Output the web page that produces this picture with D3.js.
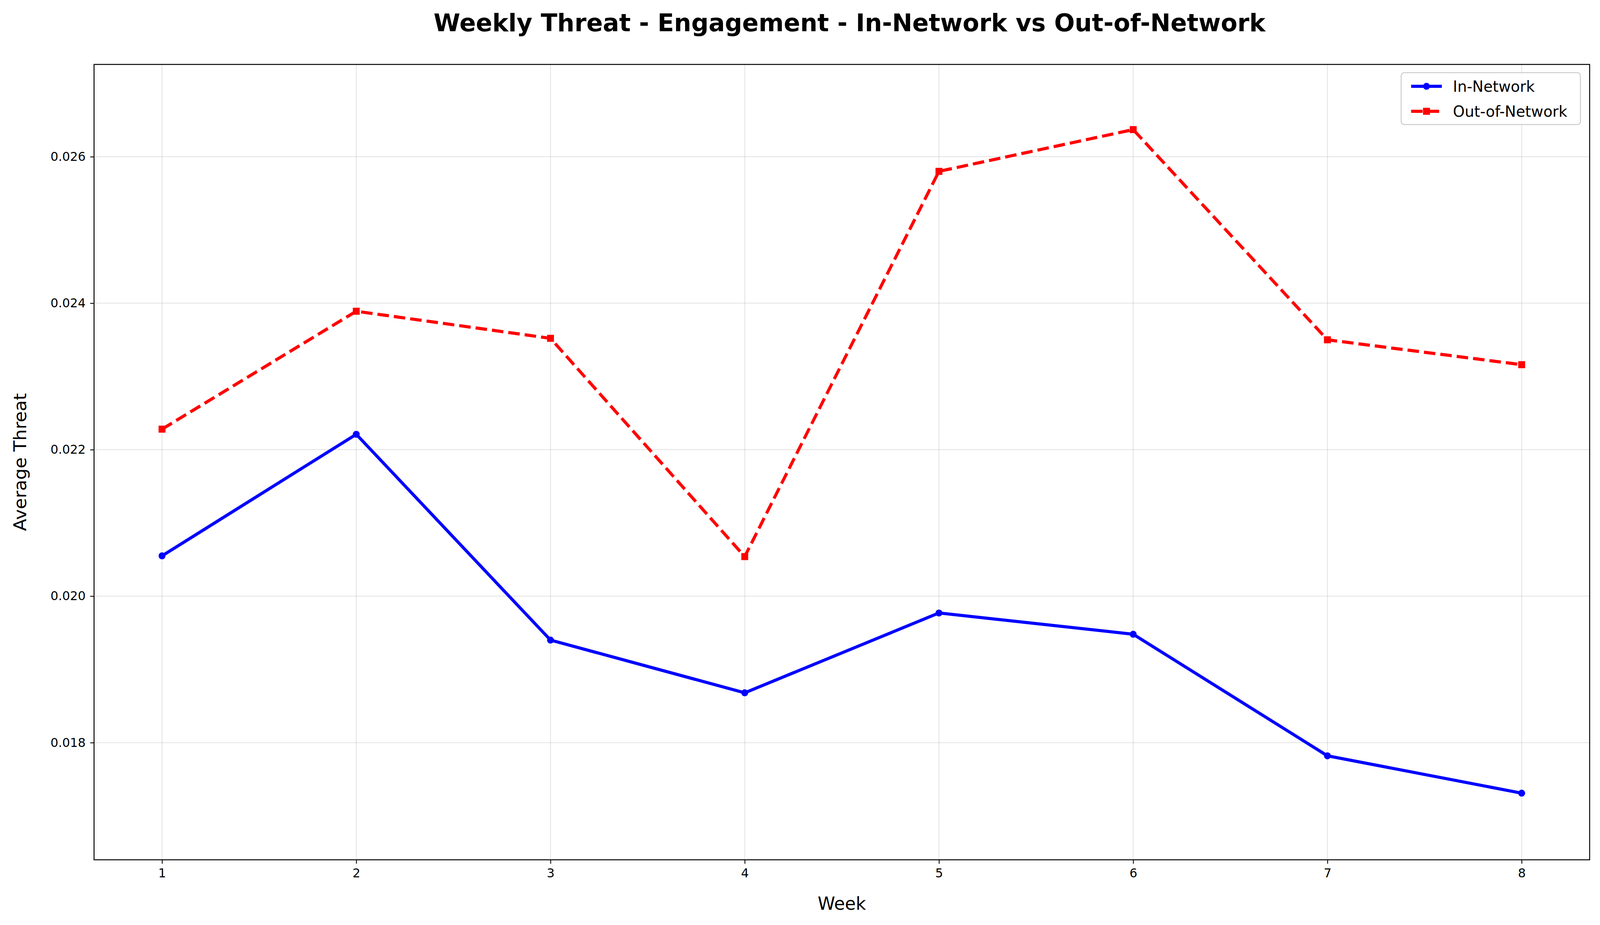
<!DOCTYPE html>
<html><head><meta charset="utf-8">
<script src="https://cdn.jsdelivr.net/npm/d3@7"></script>
<style>html,body{margin:0;padding:0;overflow:hidden;background:#fff;font-family:"DejaVu Sans",sans-serif;}svg{display:block;}</style>
</head><body>
<script>
// data
const weeks = [1, 2, 3, 4, 5, 6, 7, 8];
const inNetwork = [0.02055, 0.02221, 0.01940, 0.01868, 0.01977, 0.01948, 0.01782, 0.01731];
const outNetwork = [0.02228, 0.02389, 0.02352, 0.02054, 0.02580, 0.02637, 0.02350, 0.02316];
const yTicks = [0.018, 0.020, 0.022, 0.024, 0.026];

const W = 4168, H = 2369;
const m = {left: 245, right: 4141, top: 165, bottom: 2202};

const svg = d3.select("body").append("svg")
	.attr("viewBox", `0 0 ${W} ${H}`)
	.attr("width", "100vw").attr("height", "100vh")
	.attr("preserveAspectRatio", "none");

const x = d3.scaleLinear().domain([0.65, 8.35]).range([m.left, m.right]);
const y = d3.scaleLinear().domain([0.0164, 0.02726]).range([m.bottom, m.top]);

// grid
svg.append("g").selectAll("line").data(weeks).enter().append("line")
	.attr("x1", d => x(d)).attr("x2", d => x(d)).attr("y1", m.top).attr("y2", m.bottom)
	.attr("stroke", "#b0b0b0").attr("stroke-opacity", 0.3).attr("stroke-width", 2.5);
svg.append("g").selectAll("line").data(yTicks).enter().append("line")
	.attr("x1", m.left).attr("x2", m.right).attr("y1", d => y(d)).attr("y2", d => y(d))
	.attr("stroke", "#b0b0b0").attr("stroke-opacity", 0.3).attr("stroke-width", 2.5);

// axes
const xAxis = svg.append("g").attr("transform", `translate(0,${m.bottom})`)
	.call(d3.axisBottom(x).tickValues(weeks).tickSize(10).tickPadding(12).tickFormat(d3.format("d")));
const yAxis = svg.append("g").attr("transform", `translate(${m.left},0)`)
	.call(d3.axisLeft(y).tickValues(yTicks).tickSize(10).tickPadding(12).tickFormat(d3.format(".3f")));
[xAxis, yAxis].forEach(a => {
	a.select(".domain").remove();
	a.selectAll("line").attr("stroke-width", 2.2);
	a.selectAll("text").attr("font-size", 32).attr("font-family", "DejaVu Sans");
});
svg.append("rect").attr("x", m.left).attr("y", m.top)
	.attr("width", m.right - m.left).attr("height", m.bottom - m.top)
	.attr("fill", "none").attr("stroke", "#000").attr("stroke-width", 2.5);

// labels
svg.append("text").attr("x", (m.left + m.right) / 2 + 20).attr("y", 80).attr("text-anchor", "middle")
	.attr("font-size", 63).attr("font-weight", "bold").text("Weekly Threat - Engagement - In-Network vs Out-of-Network");
svg.append("text").attr("x", (m.left + m.right) / 2).attr("y", 2330).attr("text-anchor", "middle")
	.attr("font-size", 46).text("Week");
svg.append("text").attr("transform", `translate(68,${(m.top + m.bottom) / 2}) rotate(-90)`)
	.attr("text-anchor", "middle").attr("font-size", 46).text("Average Threat");

// lines
const line = d3.line().x((d, i) => x(weeks[i])).y(d => y(d));
svg.append("path").datum(inNetwork).attr("d", line).attr("fill", "none")
	.attr("stroke", "blue").attr("stroke-width", 8);
svg.append("g").selectAll("circle").data(inNetwork).enter().append("circle")
	.attr("cx", (d, i) => x(weeks[i])).attr("cy", d => y(d)).attr("r", 9).attr("fill", "blue");
svg.append("path").datum(outNetwork).attr("d", line).attr("fill", "none")
	.attr("stroke", "red").attr("stroke-width", 8).attr("stroke-dasharray", "30,13");
svg.append("g").selectAll("rect").data(outNetwork).enter().append("rect")
	.attr("x", (d, i) => x(weeks[i]) - 9).attr("y", d => y(d) - 9)
	.attr("width", 18).attr("height", 18).attr("fill", "red");

// legend
const lg = svg.append("g").attr("transform", "translate(3650,186)");
lg.append("rect").attr("width", 467).attr("height", 133).attr("rx", 8)
	.attr("fill", "#fff").attr("fill-opacity", 0.8).attr("stroke", "#ccc").attr("stroke-width", 2.5);
lg.append("line").attr("x1", 26).attr("x2", 106).attr("y1", 35).attr("y2", 35).attr("stroke", "blue").attr("stroke-width", 8);
lg.append("circle").attr("cx", 66).attr("cy", 35).attr("r", 9).attr("fill", "blue");
lg.append("text").attr("x", 135).attr("y", 49).attr("font-size", 39).text("In-Network");
lg.append("line").attr("x1", 26).attr("x2", 106).attr("y1", 99).attr("y2", 99).attr("stroke", "red").attr("stroke-width", 8).attr("stroke-dasharray", "30,13");
lg.append("rect").attr("x", 57).attr("y", 90).attr("width", 18).attr("height", 18).attr("fill", "red");
lg.append("text").attr("x", 135).attr("y", 113).attr("font-size", 39).text("Out-of-Network");
</script>
</body></html>
